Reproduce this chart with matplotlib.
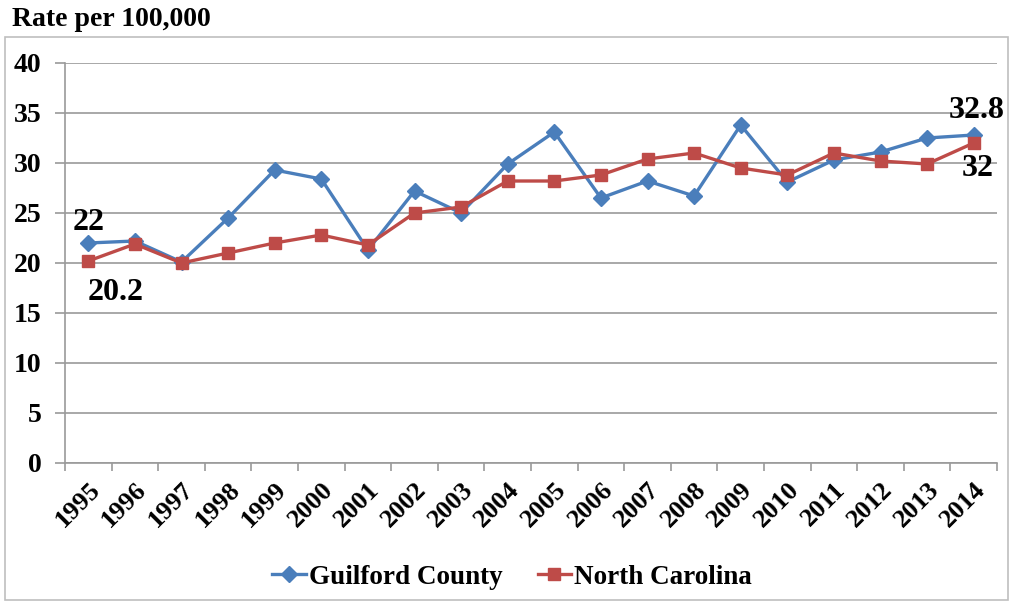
import matplotlib
matplotlib.use("Agg")
import numpy as np
from matplotlib import pyplot as plt
from matplotlib.patches import Rectangle

years = [str(y) for y in range(1995, 2015)]
guilford = [22.0, 22.2, 20.1, 24.5, 29.3, 28.4, 21.3, 27.2, 25.0, 29.9,
            33.1, 26.5, 28.2, 26.7, 33.8, 28.1, 30.3, 31.1, 32.5, 32.8]
north_carolina = [20.2, 21.9, 20.0, 21.0, 22.0, 22.8, 21.8, 25.0, 25.6, 28.2,
                  28.2, 28.8, 30.4, 31.0, 29.5, 28.8, 31.0, 30.2, 29.9, 32.0]

BLUE = "#4A7EBB"
RED = "#BE4B48"
GRID = "#9a9a9a"
FONT = "Liberation Serif"

plt.rcParams["font.family"] = FONT
plt.rcParams["font.weight"] = "bold"

fig = plt.figure(figsize=(10.11, 6.04), dpi=100)
ax = fig.add_axes([65 / 1011, 1 - 463 / 604, 932 / 1011, 400 / 604])

x = np.arange(len(years))
ax.plot(x, guilford, color=BLUE, lw=2.4, marker="D", ms=8,
        label="Guilford County", zorder=3)
ax.plot(x, north_carolina, color=RED, lw=2.4, marker="s", ms=8.5,
        label="North Carolina", zorder=4)

ax.set_xlim(-0.5, len(years) - 0.5)
ax.set_ylim(0, 40)
ax.set_yticks(range(0, 41, 5))
ax.yaxis.grid(True, color=GRID, lw=1.2)
ax.set_axisbelow(True)

ax.set_xticks(x)
ax.set_xticklabels(years, rotation=45, ha="right", rotation_mode="anchor",
                   fontsize=19, fontweight="bold")
ax.set_xticks(np.arange(-0.5, len(years)), minor=True)
ax.tick_params(axis="x", which="major", length=0, pad=11)
ax.tick_params(axis="x", which="minor", length=6, color=GRID, width=1.2)
ax.tick_params(axis="y", length=7, color=GRID, width=1.2, labelsize=20, pad=10)
for lab in ax.get_yticklabels():
    lab.set_fontweight("bold")

for side in ["top", "right"]:
    ax.spines[side].set_visible(False)
for side in ["left", "bottom"]:
    ax.spines[side].set_color(GRID)
    ax.spines[side].set_linewidth(1.2)

def label(i, series, dx, dy):
    val = series[i]
    txt = f"{val:g}"
    ax.annotate(txt, (x[i], val), xytext=(dx, dy), textcoords="offset pixels",
                ha="center", va="center", fontsize=23, fontweight="bold")

label(0, guilford, 0, 21)
label(0, north_carolina, 27, -31)
label(19, guilford, 3, 25)
label(19, north_carolina, 4, -25)

fig.text(12 / 1011, 1 - 20 / 604, "Rate per 100,000", fontsize=20,
         fontweight="bold", va="center", ha="left")

fig.patches.append(Rectangle((5 / 1011, 1 - 600 / 604), 1003 / 1011, 563 / 604,
                             transform=fig.transFigure, fill=False,
                             edgecolor="#bfbfbf", lw=1.2))

fig.legend(loc="center", bbox_to_anchor=(512 / 1011, 1 - 577 / 604), ncol=2,
           frameon=False, handlelength=1.25, columnspacing=1.3,
           handletextpad=0.1, prop={"family": FONT, "weight": "bold", "size": 19.5})

fig.savefig("out.png", dpi=100)
